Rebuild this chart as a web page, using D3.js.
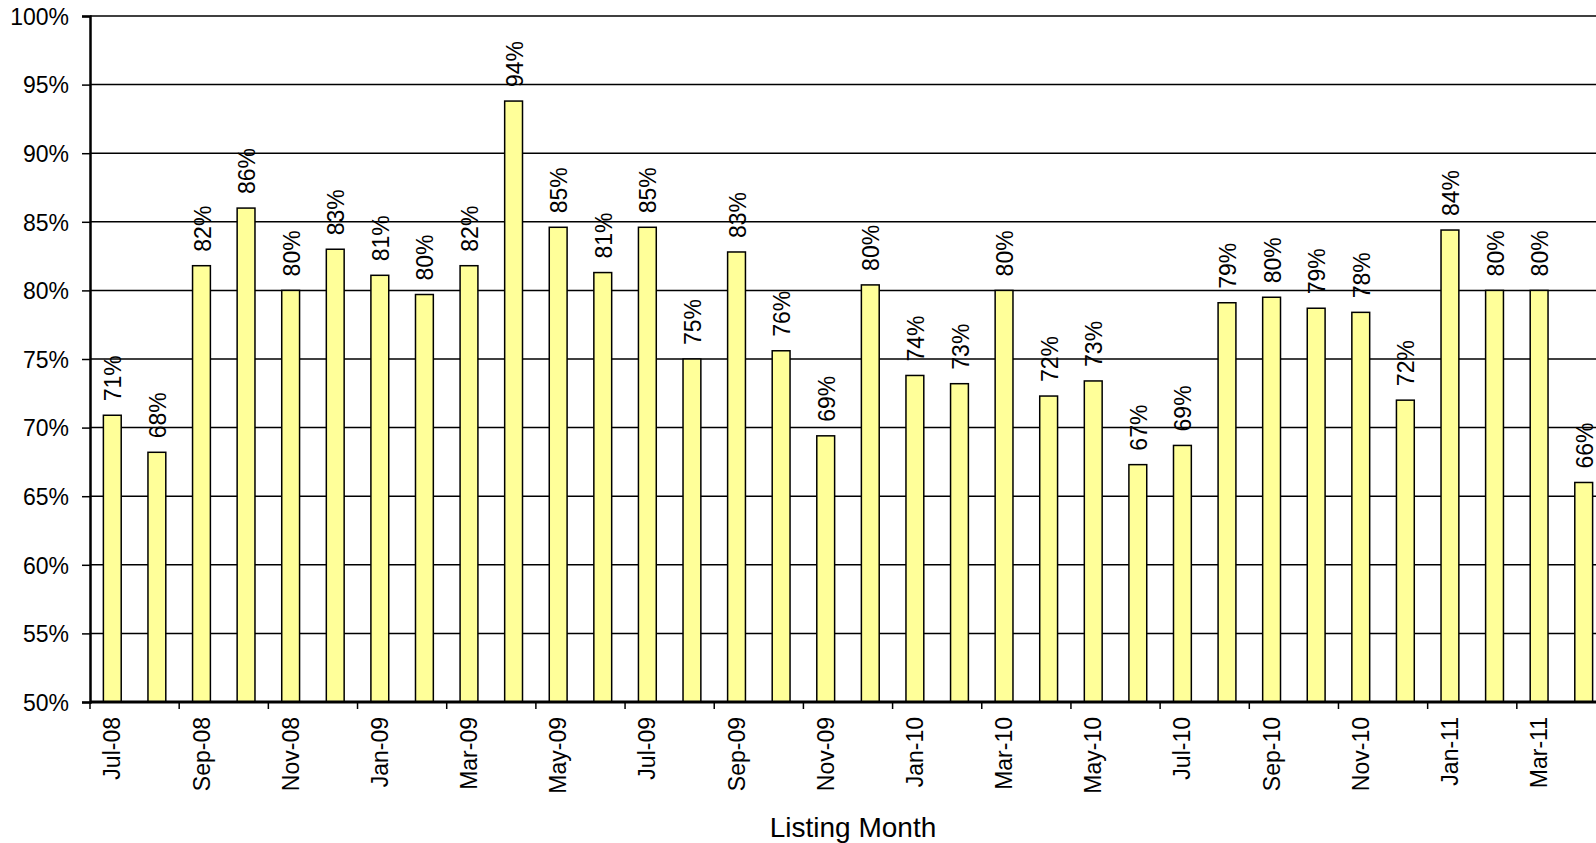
<!DOCTYPE html>
<html lang="en">
<head>
    <meta charset="UTF-8">
    <title>Listing Month</title>
    <script src="https://d3js.org/d3.v7.min.js"></script>
    <style>
        body { margin: 0; background: #fff; }
        text {
            font-family: 'Liberation Sans', Arial, sans-serif;
            fill: #000;
        }
    </style>
</head>
<body>
<script>
    const width = 1596;
    const height = 843;

    const months = [
        'Jul-08', 'Aug-08', 'Sep-08', 'Oct-08', 'Nov-08', 'Dec-08',
        'Jan-09', 'Feb-09', 'Mar-09', 'Apr-09', 'May-09', 'Jun-09',
        'Jul-09', 'Aug-09', 'Sep-09', 'Oct-09', 'Nov-09', 'Dec-09',
        'Jan-10', 'Feb-10', 'Mar-10', 'Apr-10', 'May-10', 'Jun-10',
        'Jul-10', 'Aug-10', 'Sep-10', 'Oct-10', 'Nov-10', 'Dec-10',
        'Jan-11', 'Feb-11', 'Mar-11', 'Apr-11'
    ];

    // share of listings, in percent
    const values = [
        70.9, 68.2, 81.8, 86.0, 80.0, 83.0,
        81.1, 79.7, 81.8, 93.8, 84.6, 81.3,
        84.6, 75.0, 82.8, 75.6, 69.4, 80.4,
        73.8, 73.2, 80.0, 72.3, 73.4, 67.3,
        68.7, 79.1, 79.5, 78.7, 78.4, 72.0,
        84.4, 80.0, 80.0, 66.0
    ];

    const yTicks = [50, 55, 60, 65, 70, 75, 80, 85, 90, 95, 100];
    const xTitle = 'Listing Month';

    const plot = {left: 90, right: 1606, top: 16, bottom: 702};

    const x = d3.scaleBand()
                .domain(months)
                .range([plot.left, plot.right])
                .paddingInner(0.6)
                .paddingOuter(0.3);

    const y = d3.scaleLinear()
                .domain([50, 100])
                .range([plot.bottom, plot.top]);

    const svg = d3.select("body").append("svg")
                  .attr("width", width).attr("height", height);

    // horizontal grid lines
    svg.append("g")
       .selectAll("line")
       .data(yTicks.filter(d => d > 50))
       .enter()
       .append("line")
       .attr("x1", plot.left)
       .attr("x2", plot.right)
       .attr("y1", d => y(d))
       .attr("y2", d => y(d))
       .style("stroke", "#000")
       .style("stroke-width", 1.5);

    // bars
    svg.append("g")
       .selectAll("rect")
       .data(values)
       .enter()
       .append("rect")
       .attr("x", (d, i) => x(months[i]))
       .attr("y", d => y(d))
       .attr("width", x.bandwidth())
       .attr("height", d => y(50) - y(d))
       .style("fill", "#FFFF99")
       .style("stroke", "#000")
       .style("stroke-width", 1.5);

    // value labels, rotated
    svg.append("g")
       .selectAll("text")
       .data(values)
       .enter()
       .append("text")
       .attr("transform", (d, i) =>
            `translate(${x(months[i]) + x.bandwidth() / 2 + 1},${y(d) - 14}) rotate(-90)`)
       .attr("dy", "0.35em")
       .style("font-size", "23px")
       .text(d => Math.round(d) + '%');

    // y axis
    const yAxis = d3.axisLeft(y)
                    .tickValues(yTicks)
                    .tickSize(8)
                    .tickPadding(13)
                    .tickFormat(d => d + '%');

    const gy = svg.append("g")
                  .attr("transform", `translate(${plot.left},0)`)
                  .call(yAxis);
    gy.select(".domain").style("stroke-width", 2.5);
    gy.selectAll(".tick line").style("stroke-width", 1.5);
    gy.selectAll(".tick text")
      .style("font-size", "23px")
      .style("font-family", "'Liberation Sans', Arial, sans-serif")
      .attr("dy", "0.36em");

    // x axis: ticks every second month boundary, labels every second month
    const gx = svg.append("g")
                  .attr("transform", `translate(0,${plot.bottom})`);

    gx.append("line")
      .attr("x1", plot.left)
      .attr("x2", plot.right)
      .style("stroke", "#000")
      .style("stroke-width", 3);

    const step = x.step();
    const edge = x(months[0]) - x.paddingOuter() * step;

    gx.selectAll(".xtick")
      .data(months.filter((m, i) => i % 2 === 0))
      .enter()
      .append("line")
      .attr("class", "xtick")
      .attr("x1", m => edge + months.indexOf(m) * step)
      .attr("x2", m => edge + months.indexOf(m) * step)
      .attr("y1", 0)
      .attr("y2", 7)
      .style("stroke", "#000")
      .style("stroke-width", 1.5);

    gx.selectAll(".xlabel")
      .data(months.filter((m, i) => i % 2 === 0))
      .enter()
      .append("text")
      .attr("class", "xlabel")
      .attr("transform", m => `translate(${x(m) + x.bandwidth() / 2},15) rotate(-90)`)
      .attr("dy", "0.35em")
      .style("text-anchor", "end")
      .style("font-size", "23px")
      .text(m => m);

    // axis title
    svg.append("text")
       .attr("x", 853)
       .attr("y", 837)
       .style("text-anchor", "middle")
       .style("font-size", "28px")
       .text(xTitle);
</script>
</body>
</html>
